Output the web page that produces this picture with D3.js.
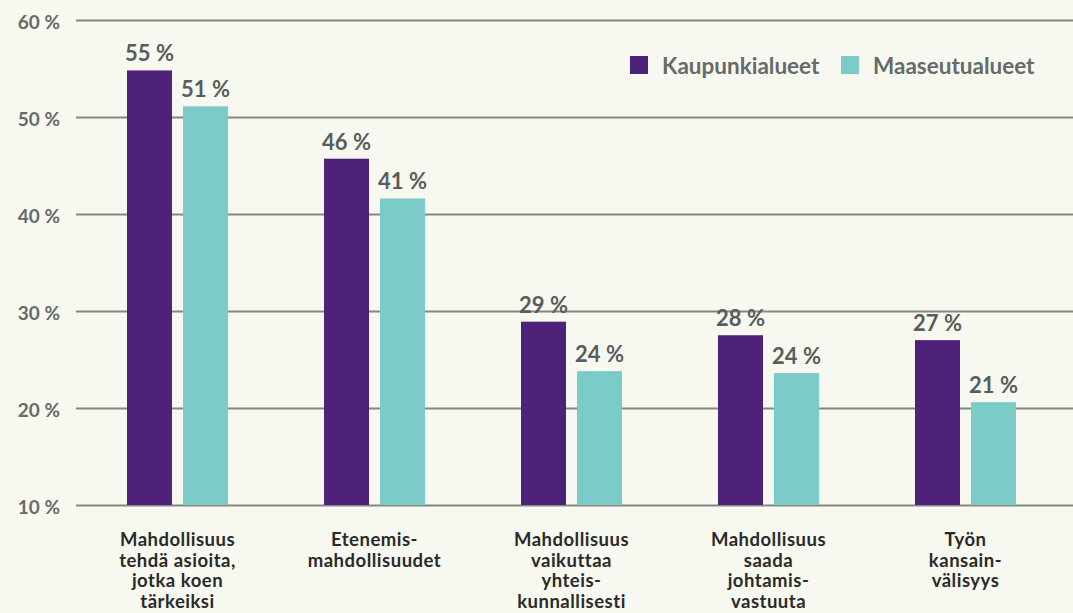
<!DOCTYPE html>
<html>
<head>
<meta charset="utf-8">
<script src="https://cdn.jsdelivr.net/npm/d3@7"></script>
<style>
  body { margin: 0; background: #f7f9f0; }
  svg { display: block; }
</style>
</head>
<body>
<div id="chart"></div>
<script>
var width = 1073;
var height = 613;

// data
var categories = ["Mahdollisuus tehdä asioita, jotka koen tärkeiksi", "Etenemismahdollisuudet",
    "Mahdollisuus vaikuttaa yhteiskunnallisesti", "Mahdollisuus saada johtamisvastuuta", "Työn kansainvälisyys"];
var categoryLines = [
    ["Mahdollisuus", "tehdä asioita,", "jotka koen", "tärkeiksi"],
    ["Etenemis-", "mahdollisuudet"],
    ["Mahdollisuus", "vaikuttaa", "yhteis-", "kunnallisesti"],
    ["Mahdollisuus", "saada", "johtamis-", "vastuuta"],
    ["Työn", "kansain-", "välisyys"]
];
var seriesNames = ["Kaupunkialueet", "Maaseutualueet"];
var urban = [54.8, 45.7, 28.9, 27.5, 27.0];
var rural = [51.1, 41.6, 23.8, 23.6, 20.6];
var urbanLabels = ["55 %", "46 %", "29 %", "28 %", "27 %"];
var ruralLabels = ["51 %", "41 %", "24 %", "24 %", "21 %"];
var yTicks = [10, 20, 30, 40, 50, 60];

var colors = ["#4f2279", "#7bccc8"];
var font = "Lato, 'Open Sans', sans-serif";

var dataset = categories.map(function(c, i){
    return {
        category: c,
        lines: categoryLines[i],
        values: [
            {series: seriesNames[0], value: urban[i], label: urbanLabels[i]},
            {series: seriesNames[1], value: rural[i], label: ruralLabels[i]}
        ]
    };
});

var svg = d3.select("#chart")
    .append("svg")
    .attr("width", width)
    .attr("height", height)
    .style("background", "#f7f9f0");

var y = d3.scaleLinear().domain([10, 60]).range([505, 20]);

var x0 = d3.scaleBand().domain(categories).range([79, 1064]).padding(0);
var x1 = d3.scaleBand().domain(seriesNames)
    .range([x0.bandwidth() / 2 - 50.5, x0.bandwidth() / 2 + 50.5])
    .paddingInner(11 / 56).paddingOuter(0);

// grid + y labels
var gridLeft = 76;
var yAxis = d3.axisLeft(y)
    .tickValues(yTicks)
    .tickSize(-(width - gridLeft))
    .tickPadding(16)
    .tickFormat(function(d){ return d + " %"; });

var gy = svg.append("g")
    .attr("transform", "translate(" + gridLeft + ",0)")
    .call(yAxis);
gy.select(".domain").remove();
gy.selectAll(".tick line")
    .attr("stroke", "#86877f")
    .attr("stroke-width", 2);
gy.selectAll(".tick text")
    .attr("fill", "#676a6a")
    .attr("font-family", font)
    .attr("font-weight", 700)
    .attr("font-size", "19px")
    .attr("dy", "0.45em");

// bars
var groups = svg.selectAll("g.group")
    .data(dataset)
    .enter()
    .append("g")
    .attr("class", "group")
    .attr("transform", function(d){ return "translate(" + x0(d.category) + ",0)"; });

groups.selectAll("rect")
    .data(function(d){ return d.values; })
    .enter()
    .append("rect")
    .attr("x", function(d){ return x1(d.series); })
    .attr("y", function(d){ return y(d.value); })
    .attr("width", x1.bandwidth())
    .attr("height", function(d){ return y(10) - y(d.value); })
    .attr("fill", function(d, i){ return colors[i]; });

groups.selectAll("text.value")
    .data(function(d){ return d.values; })
    .enter()
    .append("text")
    .attr("class", "value")
    .text(function(d){ return d.label; })
    .attr("x", function(d){ return x1(d.series) + x1.bandwidth() / 2; })
    .attr("y", function(d){ return y(d.value) - 9; })
    .attr("text-anchor", "middle")
    .attr("font-family", font)
    .attr("font-weight", 700)
    .attr("font-size", "22px")
    .attr("fill", "#595c5c");

// category labels
var catText = groups.append("text")
    .attr("text-anchor", "middle")
    .attr("font-family", font)
    .attr("font-weight", 700)
    .attr("font-size", "18.5px")
    .attr("letter-spacing", "0.5px")
    .attr("fill", "#2a2a2a");

catText.selectAll("tspan")
    .data(function(d){ return d.lines; })
    .enter()
    .append("tspan")
    .attr("x", x0.bandwidth() / 2)
    .attr("y", function(d, i){ return 546 + i * 20.5; })
    .text(function(d){ return d; });

// legend
var legendX = [630, 841];
var legend = svg.selectAll("g.legend")
    .data(seriesNames)
    .enter()
    .append("g")
    .attr("class", "legend")
    .attr("transform", function(d, i){ return "translate(" + legendX[i] + ",56)"; });

legend.append("rect")
    .attr("width", 18)
    .attr("height", 18)
    .attr("fill", function(d, i){ return colors[i]; });

legend.append("text")
    .text(function(d){ return d; })
    .attr("x", 32)
    .attr("y", 17.5)
    .attr("font-family", font)
    .attr("font-weight", 700)
    .attr("font-size", "22.5px")
    .attr("fill", "#676a6a");
</script>
</body>
</html>
